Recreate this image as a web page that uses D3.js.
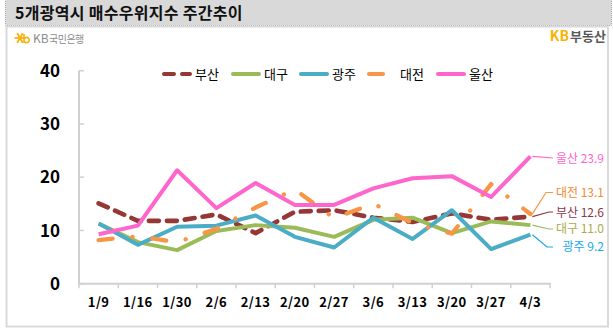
<!DOCTYPE html>
<html><head><meta charset="utf-8">
<script src="https://cdn.jsdelivr.net/npm/d3@7/dist/d3.min.js"></script>
<style>
html,body{margin:0;padding:0;background:#fff;}
svg{display:block;font-family:"Noto Sans CJK KR","Noto Sans",sans-serif;}
</style></head>
<body>
<svg id="c" width="613" height="328"></svg>
<script>
const categories = ["1/9","1/16","1/30","2/6","2/13","2/20","2/27","3/6","3/13","3/20","3/27","4/3"];
const busan   = [15.1, 11.8, 11.8, 13.0, 9.5, 13.5, 13.8, 12.4, 11.6, 13.2, 12.0, 12.6];
const daegu   = [11.3, 7.8, 6.3, 9.9, 11.0, 10.5, 8.8, 12.0, 12.4, 9.5, 11.7, 11.0];
const gwangju = [11.3, 7.3, 10.7, 10.9, 12.8, 8.8, 6.8, 12.4, 8.4, 13.8, 6.5, 9.2];
const daejeon = [8.2, 8.9, 7.8, 10.3, 14.3, 17.7, 12.3, 15.0, 11.4, 9.4, 18.7, 13.1];
const ulsan   = [9.3, 10.9, 21.3, 14.2, 18.9, 14.8, 14.8, 17.9, 19.8, 20.2, 16.3, 23.9];
const seriesNames = ["부산","대구","광주","대전","울산"];
const yTicks = [0, 10, 20, 30, 40];
const title = "5개광역시 매수우위지수 주간추이";

const seriesData = [busan, daegu, gwangju, daejeon, ulsan];
const colors = ["#953735", "#9bbb59", "#4bacc6", "#f79646", "#ff66cc"];
const dashes = ["10,8", null, null, "14,20,0.1,20", null];
const labelColors = ["#8a3848", "#a9ac4c", "#19a9ea", "#f28a2c", "#ff66cc"];

const svg = d3.select("#c");

// header
svg.append("rect").attr("x",5.5).attr("y",-1).attr("width",606).attr("height",26.5)
  .attr("fill","#d9d9d9").attr("stroke","#a6a6a6").attr("stroke-dasharray","1,1");
svg.append("text").attr("x",15).attr("y",19).attr("font-size",16).attr("font-weight",700)
  .attr("fill","#111").attr("letter-spacing",0.3).text(title);

// panel
svg.append("rect").attr("x",6.5).attr("y",26.5).attr("width",601.5).attr("height",300)
  .attr("fill","#fff").attr("stroke","#d9d9d9").attr("stroke-width",2);

// KB 국민은행 logo
const lg = svg.append("g").attr("transform","translate(20,38)");
[0,60,120].forEach(a=>{
  lg.append("line").attr("x1",-5.5).attr("x2",5.5).attr("y1",0).attr("y2",0)
    .attr("stroke","#f6b20f").attr("stroke-width",1.8).attr("transform",`rotate(${a})`);
});
lg.append("path").attr("d","M4,-4 L4,5 M4,2 a2.6,2.6 0 1 0 5.2,0 a2.6,2.6 0 1 0 -5.2,0")
  .attr("fill","none").attr("stroke","#f6b20f").attr("stroke-width",1.6);
svg.append("text").attr("x",33).attr("y",43).attr("font-size",12).attr("fill","#8c8c8c").text("KB");
svg.append("text").attr("x",49).attr("y",43).attr("font-size",10).attr("fill","#8c8c8c").attr("letter-spacing",-0.5).text("국민은행");

// KB부동산
svg.append("text").attr("x",569).attr("y",41).attr("text-anchor","end").attr("font-size",14).attr("font-weight",700).attr("fill","#fbb100").text("KB");
svg.append("text").attr("x",606).attr("y",41).attr("text-anchor","end").attr("font-size",13).attr("font-weight",700).attr("fill","#595959").text("부동산");

// scales
const x = d3.scaleBand().domain(categories).range([79, 550]).padding(0);
const cx = c => x(c) + x.bandwidth()/2;
const y = d3.scaleLinear().domain([0, 40]).range([283.7, 70.7]);

// axes
const ax = svg.append("g");
ax.append("line").attr("x1",79).attr("x2",79).attr("y1",y(40)).attr("y2",y(0))
  .attr("stroke","#d0d0d0").attr("stroke-width",2);
ax.append("line").attr("x1",78).attr("x2",551).attr("y1",y(0)).attr("y2",y(0))
  .attr("stroke","#d0d0d0").attr("stroke-width",2);
ax.selectAll(".yt").data(yTicks).join("line")
  .attr("x1",79).attr("x2",84).attr("y1",d=>y(d)).attr("y2",d=>y(d))
  .attr("stroke","#d0d0d0").attr("stroke-width",1.5);
ax.selectAll(".yl").data(yTicks).join("text")
  .attr("x",60).attr("y",d=>y(d)).attr("dy","0.36em").attr("text-anchor","end")
  .attr("font-size",17).attr("font-weight",700).attr("fill","#000").text(d=>d);
const bounds = categories.map(c=>x(c)).concat([x(categories[categories.length-1])+x.bandwidth()]);
ax.selectAll(".xt").data(bounds).join("line")
  .attr("x1",d=>d).attr("x2",d=>d).attr("y1",y(0)).attr("y2",y(0)+4.5)
  .attr("stroke","#d0d0d0").attr("stroke-width",1.5);
ax.selectAll(".xl").data(categories).join("text")
  .attr("x",d=>cx(d)).attr("y",302).attr("dy","0.36em").attr("text-anchor","middle")
  .attr("font-size",13).attr("font-weight",700).attr("fill","#000").attr("letter-spacing",0.4).text(d=>d);

// lines
const line = d3.line().x((d,i)=>cx(categories[i])).y(d=>y(d));
seriesData.forEach((s,k)=>{
  svg.append("path").datum(s).attr("d",line).attr("fill","none")
    .attr("stroke",colors[k]).attr("stroke-width",k===0?4.6:(k===3?4.3:4))
    .attr("stroke-linejoin","round").attr("stroke-linecap", dashes[k] ? "round" : "butt")
    .attr("stroke-dasharray",dashes[k]);
});

// legend
const legX = [162, 231, 299, 367, 436];
seriesNames.forEach((n,k)=>{
  svg.append("line").attr("x1",legX[k]+2).attr("x2",legX[k]+28).attr("y1",74).attr("y2",74)
    .attr("stroke",colors[k]).attr("stroke-width",4)
    .attr("stroke-linecap","round").attr("stroke-dasharray",dashes[k]);
  svg.append("text").attr("x",legX[k]+33).attr("y",74).attr("dy","0.36em")
    .attr("font-size",13).attr("fill","#000").text(n);
});

// end labels with leader lines
const last = categories[categories.length-1];
const lx = cx(last);
const labelY = [212.5, 229, 247, 192.5, 158.5];
const elbow = [[549,212],[549,229],[547,247],[546,192.5],[553,158]];
seriesData.forEach((s,k)=>{
  const py = y(s[s.length-1]);
  const pts = [[lx+2, py],[elbow[k][0], elbow[k][1]],[553, elbow[k][1]]];
  svg.append("path").attr("d", d3.line()(pts)).attr("fill","none")
    .attr("stroke",colors[k] === "#4bacc6" ? "#19a9ea" : colors[k]).attr("stroke-width",1.2);
  svg.append("text").attr("x",604).attr("y",labelY[k]).attr("dy","0.36em")
    .attr("text-anchor","end").attr("font-size",12).attr("fill",labelColors[k])
    .text(seriesNames[k] + " " + s[s.length-1].toFixed(1));
});
</script>
</body></html>
